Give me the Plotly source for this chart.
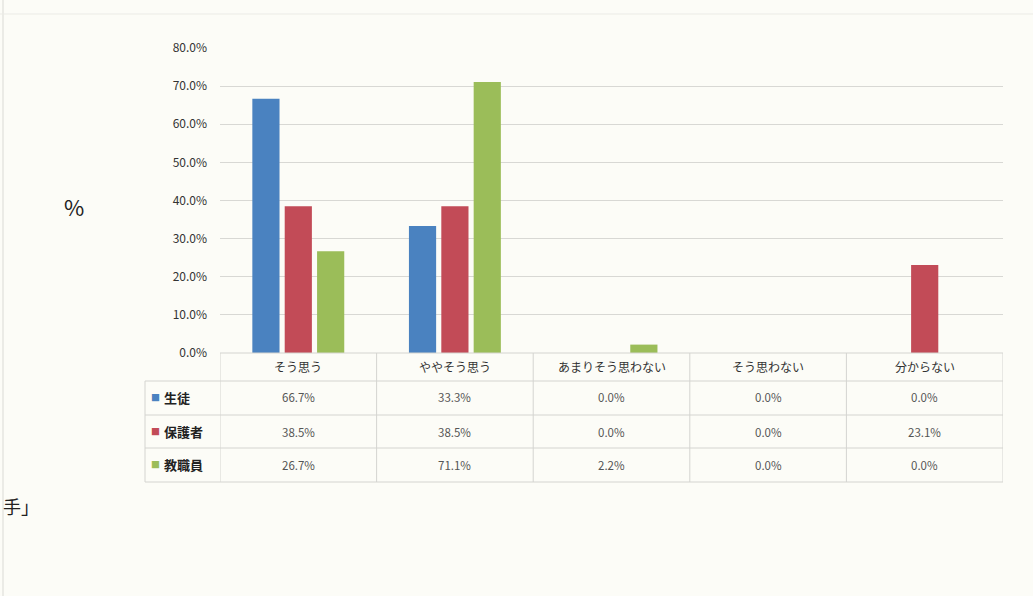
import plotly.graph_objects as go

# Survey answers by respondent group (percent)
categories = ["そう思う", "ややそう思う", "あまりそう思わない", "そう思わない", "分からない"]
series_names = ["生徒", "保護者", "教職員"]
students = [66.7, 33.3, 0.0, 0.0, 0.0]
parents = [38.5, 38.5, 0.0, 0.0, 23.1]
staff = [26.7, 71.1, 2.2, 0.0, 0.0]
y_ticks = [0, 10, 20, 30, 40, 50, 60, 70, 80]

series_values = [students, parents, staff]
colors = ["#4a82c0", "#c24b57", "#9bbd59"]

W, H = 1033, 596
L, R, T, B = 220, 30, 48, 243
PW = W - L - R
PH = H - T - B
FONT = "Noto Sans CJK JP, Noto Sans, sans-serif"


def px_x(px):
    return (px - L) / PW


def px_y(py):
    return (H - B - py) / PH


def label(x, y, text, size, color, xref="paper", xanchor="center"):
    return dict(x=x, xref=xref, y=y, yref="paper", text=text,
                showarrow=False, xanchor=xanchor, yanchor="middle",
                font=dict(family=FONT, size=size, color=color))


fig = go.Figure()
for name, vals, col in zip(series_names, series_values, colors):
    fig.add_trace(go.Bar(
        x=categories, y=vals, name=name,
        marker=dict(color=col, line=dict(width=0)),
        showlegend=False,
    ))

shapes = []
annotations = []

line_col = "#d4d4d0"
# table verticals at category boundaries
for k in range(len(categories) + 1):
    shapes.append(dict(type="line", xref="x", yref="paper",
                       x0=k - 0.5, x1=k - 0.5, y0=px_y(353), y1=px_y(482),
                       line=dict(color=line_col, width=1)))
# left border of the series-name column
shapes.append(dict(type="line", xref="paper", yref="paper",
                   x0=px_x(145), x1=px_x(145), y0=px_y(381), y1=px_y(482),
                   line=dict(color=line_col, width=1)))
# table horizontals
shapes.append(dict(type="line", xref="paper", yref="paper",
                   x0=0, x1=1, y0=0, y1=0,
                   line=dict(color=line_col, width=1)))
for py in [381, 415, 448, 482]:
    shapes.append(dict(type="line", xref="paper", yref="paper",
                       x0=px_x(145), x1=1, y0=px_y(py), y1=px_y(py),
                       line=dict(color=line_col, width=1)))
# faint page border lines
shapes.append(dict(type="line", xref="paper", yref="paper",
                   x0=px_x(0), x1=px_x(W), y0=px_y(14), y1=px_y(14),
                   line=dict(color="#ebebe6", width=1)))
shapes.append(dict(type="line", xref="paper", yref="paper",
                   x0=px_x(3), x1=px_x(3), y0=px_y(0), y1=px_y(H),
                   line=dict(color="#ebebe6", width=2)))

# header row: category names
for c in categories:
    annotations.append(label(c, px_y(366), c, 12, "#333333", xref="x"))

# data rows
row_centers = [397, 432, 465]
for name, vals, col, py in zip(series_names, series_values, colors, row_centers):
    annotations.append(label(px_x(155), px_y(py), "■", 9, col))
    annotations.append(label(px_x(162), px_y(py), f"<b>{name}</b>", 13,
                             "#222222", xanchor="left"))
    for c, v in zip(categories, vals):
        annotations.append(label(c, px_y(py), f"{v:.1f}%", 11.5, "#555555",
                                 xref="x"))

# axis unit label and page text
annotations.append(label(px_x(74), px_y(206), "%", 22, "#222222"))
annotations.append(label(px_x(1), px_y(506), "手」", 18, "#222222",
                         xanchor="left"))

fig.update_layout(
    width=W, height=H,
    margin=dict(l=L, r=R, t=T, b=B),
    paper_bgcolor="#fcfcf7",
    plot_bgcolor="#fcfcf7",
    barmode="group",
    bargap=0.38,
    bargroupgap=0.16,
    shapes=shapes,
    annotations=annotations,
    font=dict(family=FONT),
    xaxis=dict(showticklabels=False, showgrid=False, zeroline=False,
               showline=False, range=[-0.5, len(categories) - 0.5]),
    yaxis=dict(range=[0, 80], tickvals=y_ticks,
               ticktext=[f"{t:.1f}%" for t in y_ticks],
               showgrid=True, gridcolor="#d8d8d4", gridwidth=1,
               zeroline=False, showline=False,
               ticklabelstandoff=12,
               tickfont=dict(family=FONT, size=12, color="#333333")),
)

fig.write_html("out.html")
